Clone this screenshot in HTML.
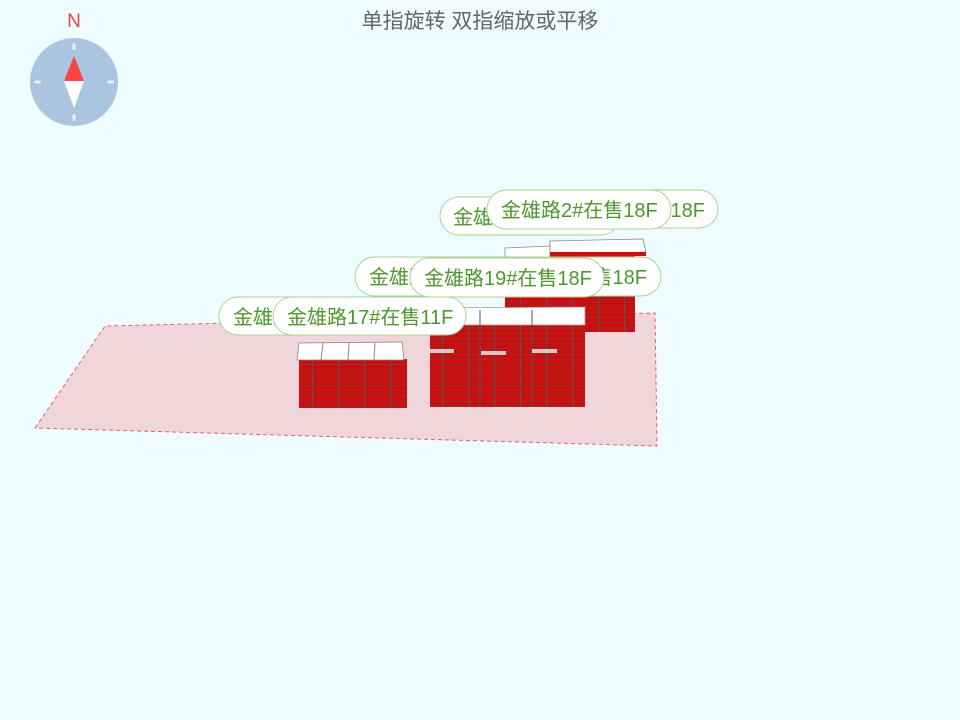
<!DOCTYPE html>
<html><head><meta charset="utf-8"><style>
html,body{margin:0;padding:0;width:960px;height:720px;background:#eefbff;overflow:hidden}
svg{display:block}
text{font-family:"Liberation Sans","Noto Sans CJK SC",sans-serif}
.pill{fill:#fff;stroke:#a8d48e;stroke-width:1}
.lt{fill:#4a9a2a;font-size:20px}
</style></head><body>
<svg width="960" height="720" viewBox="0 0 960 720">
<defs>
<pattern id="fl" width="26" height="5.2" patternUnits="userSpaceOnUse">
<rect width="26" height="5.2" fill="#d40a0a"/>
<line x1="0" y1="0.5" x2="26" y2="0.5" stroke="#7a3a3a" stroke-width="1"/>
<line x1="0.5" y1="0" x2="0.5" y2="5.2" stroke="#555" stroke-width="1.2"/>
</pattern>
</defs>
<text x="480" y="28" text-anchor="middle" font-size="21" fill="#666">单指旋转 双指缩放或平移</text>
<text x="74" y="27" text-anchor="middle" font-size="19" fill="#f04040">N</text>
<circle cx="74" cy="82" r="44" fill="#a9c5e0"/>
<rect x="72.5" y="43" width="3" height="7" rx="1.5" fill="#eee"/>
<rect x="72.5" y="114" width="3" height="7" rx="1.5" fill="#eee"/>
<rect x="34" y="80.5" width="7" height="3" rx="1.5" fill="#eee"/>
<rect x="107" y="80.5" width="7" height="3" rx="1.5" fill="#eee"/>
<polygon points="74,56 64,81 84,81" fill="#f44"/>
<polygon points="64,81 84,81 74,108" fill="#fff"/>
<polygon points="35,428 105,326 655,313 657,446" fill="#f0d6da" stroke="#f06060" stroke-dasharray="4,3" stroke-width="1" stroke-linejoin="round"/>
<rect x="505" y="255" width="130" height="77" fill="url(#fl)"/>
<polygon points="505,248 550,246 550,258 505,258" fill="#fff" stroke="#888" stroke-width="0.8"/>
<polygon points="550,241 643,239 646,252 550,255" fill="#fff" stroke="#888" stroke-width="0.8"/>
<rect x="550" y="252" width="96" height="4" fill="#d40a0a"/>
<rect x="430" y="324" width="155" height="83" fill="url(#fl)"/>
<polygon points="428,308 585,307 585,325 428,325" fill="#fff" stroke="#999" stroke-width="0.8"/>
<line x1="480" y1="310" x2="480" y2="407" stroke="#555"/>
<line x1="532" y1="310" x2="532" y2="407" stroke="#555"/>
<rect x="430" y="349" width="24" height="4" fill="#ccc"/>
<rect x="481" y="351" width="25" height="4" fill="#ccc"/>
<rect x="532" y="349" width="25" height="4" fill="#ccc"/>
<rect x="299" y="359" width="108" height="49" fill="url(#fl)"/>
<polygon points="299,343 402,342 404,360 297,360" fill="#fff" stroke="#888" stroke-width="0.8"/>
<line x1="323" y1="343" x2="321" y2="360" stroke="#888"/>
<line x1="349" y1="343" x2="348" y2="360" stroke="#888"/>
<line x1="375" y1="343" x2="374" y2="360" stroke="#888"/>
<rect x="540" y="190" width="178" height="38" rx="19" class="pill"/>
<text x="705" y="217" text-anchor="end" class="lt">金雄路18#在售18F</text>
<rect x="440" y="197" width="180" height="38" rx="19" class="pill"/>
<text x="453" y="224" class="lt">金雄路1#在售18F</text>
<rect x="487" y="190" width="184" height="39" rx="19.5" class="pill"/>
<text x="501" y="217" class="lt">金雄路2#在售18F</text>
<rect x="470" y="257" width="191" height="39" rx="19.5" class="pill"/>
<text x="647" y="284" text-anchor="end" class="lt">金雄路20#在售18F</text>
<rect x="355" y="257" width="190" height="39" rx="19.5" class="pill"/>
<text x="369" y="284" class="lt">金雄路18#在售18F</text>
<rect x="410" y="258" width="194" height="39" rx="19.5" class="pill"/>
<text x="424" y="285" class="lt">金雄路19#在售18F</text>
<rect x="219" y="297" width="190" height="38" rx="19" class="pill"/>
<text x="233" y="324" class="lt">金雄路16#在售11F</text>
<rect x="273" y="297" width="193" height="38" rx="19" class="pill"/>
<text x="287" y="324" class="lt">金雄路17#在售11F</text>
</svg>
</body></html>
